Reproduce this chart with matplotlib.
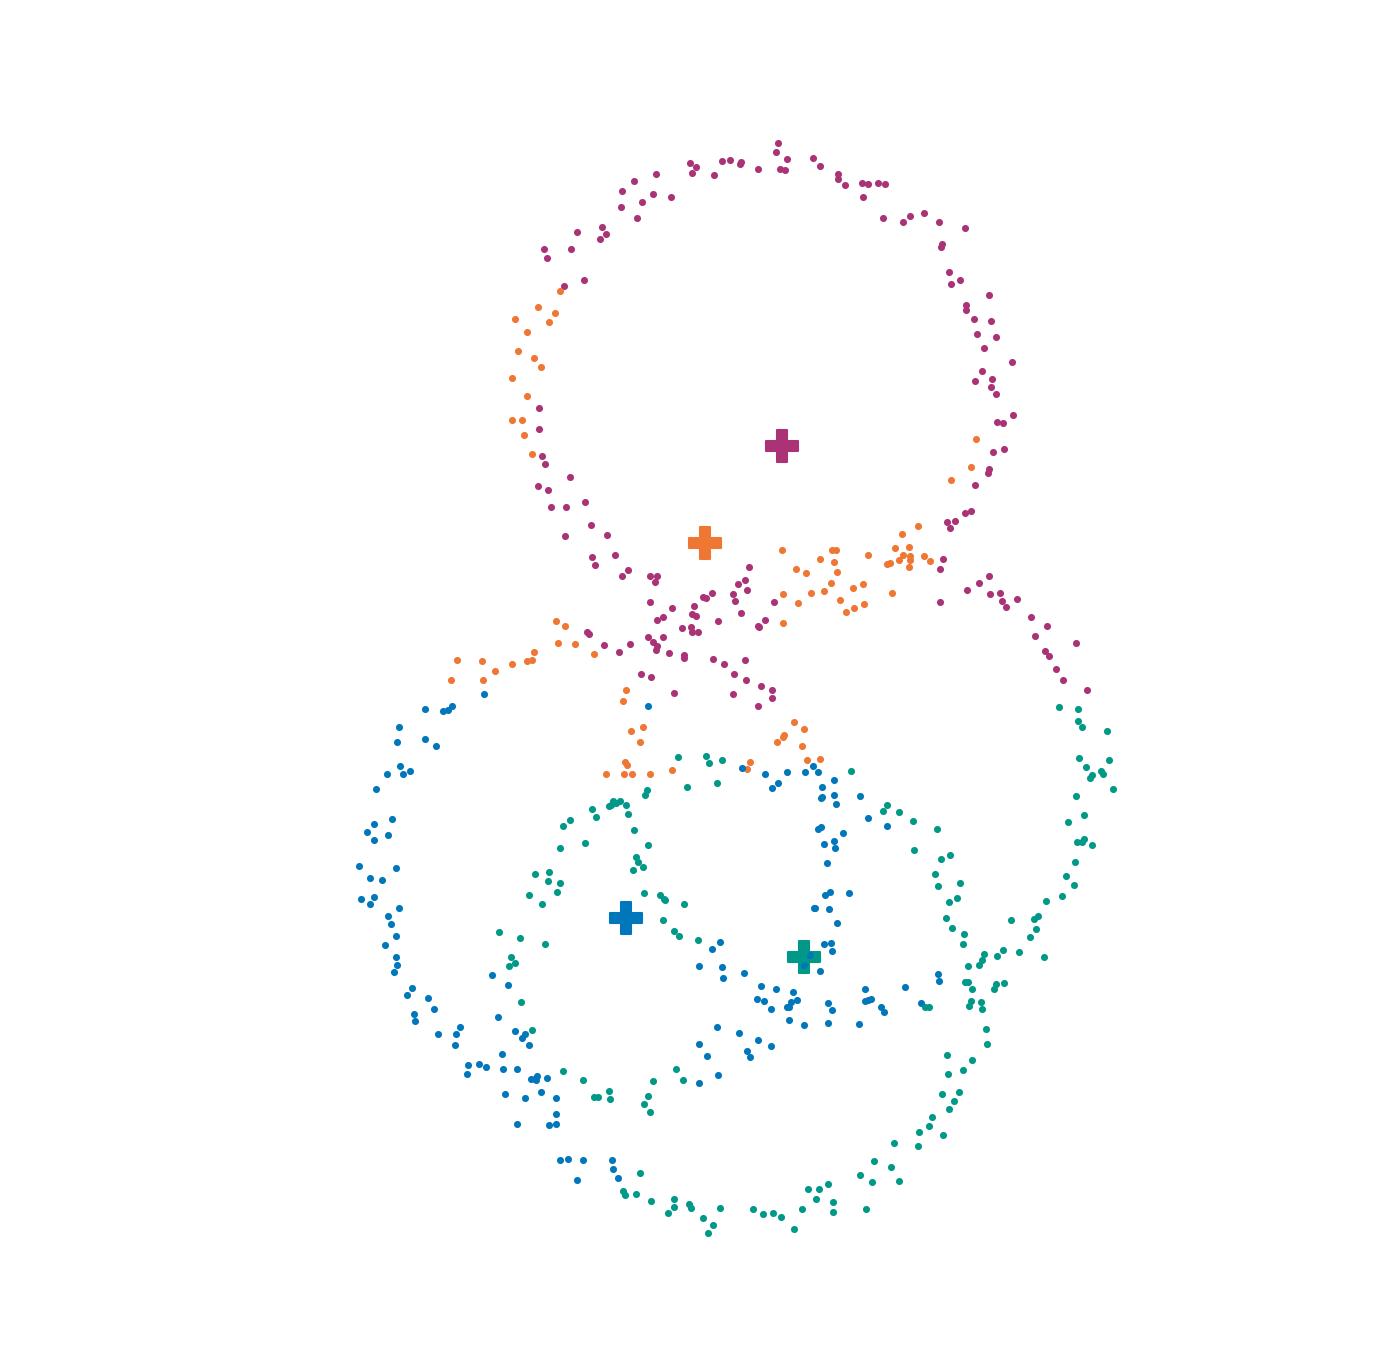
import matplotlib
matplotlib.use("Agg")
import matplotlib.pyplot as plt

# cluster colours
colors = {"m": "#AA3377", "o": "#EE7733", "b": "#0077BB", "t": "#009988"}

# points (x, y in the plot's own units, y grows downward)
m_pts = [(577,232),(602,227),(606,234),(600,239),(544,249),(547,258),(571,249),(584,280),(564,286),(539,408),
         (622,191),(634,181),(656,174),(621,207),(642,202),(637,218),(653,194),(671,197),(690,163),(696,167),
         (692,173),(714,175),(722,161),(730,160),(740,164),(741,162),(758,169),(778,143),(776,152),(787,159),
         (780,169),(785,170),(813,158),(820,166),(838,174),(838,179),(845,185),(862,183),(868,184),(863,197),
         (878,183),(885,184),(883,218),(903,222),(910,216),(924,213),(939,222),(965,228),(942,244),(941,247),
         (949,272),(951,284),(960,280),(989,295),(966,305),(966,310),(974,319),(991,321),(977,334),(996,337),
         (984,348),(1012,362),(982,371),(975,381),(992,379),(991,387),(996,394),(1013,415),
         (539,429),(542,456),(545,464),(570,477),(538,486),(548,490),(585,502),(551,507),(566,507),(591,525),
         (565,536),(607,535),(592,557),(595,565),(587,632),(589,634),(604,645),
         (615,555),(628,570),(622,576),(650,576),(657,576),(655,582),(650,602),(672,608),(657,620),(663,617),
         (694,606),(703,597),(706,598),(712,593),(692,614),(696,616),(682,628),(691,627),(692,632),(698,632),
         (718,621),(648,637),(663,637),(653,642),(657,646),(656,650),(630,644),(619,652),(669,653),(684,655),
         (684,658),(713,659),(724,664),(745,660),(641,674),(651,677),(734,674),(746,680),(761,686),(772,690),
         (674,693),(733,694),(749,567),(745,580),(738,584),(747,590),(733,594),(735,601),(741,613),(774,602),
         (765,620),(758,626),(759,627),
         (997,422),(1003,423),(993,452),(1004,449),(989,469),(988,473),(975,485),(965,513),(971,511),(947,522),
         (955,521),(950,528),(943,559),(940,569),(989,576),(979,583),(967,590),(990,594),(1000,593),(1002,601),
         (1006,607),(1017,599),(940,602),(1031,617),(1047,626),(1035,636),(1076,643),(1045,651),(1049,656),
         (1056,669),(1063,680),(1087,690),(772,698),(758,706)]

o_pts = [(560,291),(538,307),(555,313),(515,319),(549,322),(527,332),(518,351),(534,358),(541,367),(512,378),
         (527,396),(512,420),(522,420),(524,435),(532,454),(556,621),(565,626),(558,643),(575,644),(594,654),
         (534,652),(527,661),(532,660),(512,664),(457,660),(482,661),(495,671),(451,680),(483,680),
         (782,550),(796,569),(806,573),(820,559),(832,550),(836,550),(834,562),(837,572),(831,583),(824,591),
         (811,593),(783,594),(798,603),(783,623),(840,600),(846,612),(854,608),(853,588),(863,584),(864,604),
         (868,555),(626,690),
         (976,439),(971,467),(951,480),(918,526),(902,534),(895,548),(909,547),(903,555),(910,556),(910,560),
         (899,560),(887,564),(890,563),(909,567),(924,556),(930,561),(892,593),(606,774),
         (623,701),(631,731),(643,727),(640,742),(625,762),(627,765),(624,774),(632,774),(650,774),(672,770),
         (794,722),(804,729),(784,735),(783,737),(777,742),(802,746),(807,760),(820,759),(750,762),(747,769)]

b_pts = [(484,694),(425,709),(443,711),(448,710),(452,706),(399,727),(397,742),(425,739),(436,746),(400,766),
         (387,774),(403,774),(410,771),(376,789),(392,819),(374,824),(367,832),(388,835),(374,840),(359,866),
         (396,868),(370,878),(382,880),(361,899),(374,897),(370,904),(399,908),(388,916),(391,924),(396,936),
         (385,945),(396,957),(397,965),(394,972),(492,975),
         (648,706),(742,768),(765,774),(787,772),(805,772),(813,766),(818,772),(778,783),(772,788),(822,787),
         (834,780),(860,796),(834,795),(822,797),(821,798),(836,804),(868,818),(818,829),(821,827),(843,833),
         (834,841),(824,844),(835,848),(827,863),(830,892),(825,895),(849,893),(814,908),(815,908),(829,909),
         (837,923),(824,944),(831,943),(832,951),(810,955),(804,965),(820,971),(720,942),(712,949),(699,966),
         (722,967),(744,973),(887,826),(938,974),
         (508,985),(412,988),(407,995),(428,998),(434,1009),(414,1014),(415,1021),(438,1034),(460,1027),(456,1034),
         (455,1045),(498,1017),(515,1031),(525,1034),(522,1038),(529,1045),(502,1054),(468,1065),(479,1064),
         (486,1067),(467,1074),(503,1069),(517,1069),(531,1079),(535,1079),(537,1076),(536,1080),(547,1078),
         (505,1094),(525,1098),(541,1092),(556,1098),(556,1114),(517,1124),(549,1125),(556,1124),(560,1160),
         (568,1159),(583,1160),(577,1180),
         (723,978),(761,986),(776,989),(793,992),(757,999),(764,1001),(771,1009),(787,1007),(791,1002),(797,1000),
         (789,1007),(789,1020),(804,1025),(828,1003),(832,1010),(828,1023),(859,1024),(865,989),(865,1001),
         (868,1000),(717,1027),(739,1033),(758,1040),(771,1046),(747,1051),(750,1057),(699,1044),(707,1056),
         (718,1075),(699,1083),(612,1160),(613,1169),(618,1178),
         (939,981),(905,987),(871,999),(881,1007),(884,1012),(921,1003)]

t_pts = [(592,809),(596,817),(609,806),(563,826),(570,820),(585,843),(560,848),(535,874),(549,872),(548,881),
         (560,883),(557,892),(529,895),(542,904),(499,932),(520,938),(545,944),(511,957),(515,963),(509,966),
         (678,757),(706,756),(709,763),(722,760),(687,787),(717,783),(851,771),(647,790),(645,795),(613,801),
         (620,801),(616,803),(611,805),(626,805),(628,814),(634,830),(648,845),(636,857),(638,862),(643,867),
         (633,870),(644,893),(660,895),(664,899),(665,900),(684,904),(663,920),(674,931),(679,936),(698,940),
         (1059,707),(1078,709),(1078,721),(1082,727),(1107,731),(1079,758),(1086,767),(1109,760),(1090,778),
         (1092,775),(1101,771),(1103,774),(1113,789),(1076,796),(1084,815),(1068,822),(1077,842),(1082,842),
         (1084,839),(1092,845),(1075,862),(1066,876),(1074,885),(1062,896),(1046,901),(1011,920),(1034,919),
         (1038,916),(1036,929),(1030,937),(1019,952),(1003,950),(997,956),(984,954),(982,960),(979,965),(968,966),
         (1044,957),(887,805),(883,811),(899,812),(913,821),(937,829),(914,850),(941,859),(950,855),(935,874),
         (938,886),(960,883),(949,902),(957,898),(946,918),(952,928),(964,934),(963,944),
         (521,1002),(532,1030),(563,1071),(583,1080),(594,1097),(598,1097),(609,1091),(610,1099),
         (676,1069),(683,1080),(653,1081),(648,1096),(644,1104),(650,1112),
         (640,1173),(623,1191),(625,1195),(636,1194),(651,1201),(674,1199),(674,1207),(668,1213),(689,1204),
         (691,1208),(703,1218),(713,1225),(708,1233),(720,1208),(753,1209),(763,1214),(773,1213),(781,1217),
         (794,1229),(802,1209),(808,1189),(819,1189),(816,1199),(828,1184),(833,1202),(833,1212),(860,1175),
         (866,1209),
         (925,1007),(929,1007),(965,982),(968,982),(972,989),(996,984),(1004,983),(994,989),(971,1001),(969,1006),
         (981,1002),(982,1009),(986,1029),(987,1044),(947,1055),(972,1060),(963,1070),(948,1074),(942,1094),
         (959,1092),(954,1101),(949,1109),(932,1117),(929,1126),(919,1132),(943,1135),(918,1146),(894,1143),
         (874,1161),(891,1167),(872,1182),(899,1181)]

# cluster centres
centroids = {"m": (782,446), "o": (705,543), "b": (626,918), "t": (804,957)}

clusters = {"m": m_pts, "o": o_pts, "b": b_pts, "t": t_pts}

fig = plt.figure(figsize=(13.95, 13.59), dpi=100)
ax = fig.add_axes([0, 0, 1, 1])

for key, pts in clusters.items():
    xs = [p[0] for p in pts]
    ys = [p[1] for p in pts]
    ax.scatter(xs, ys, s=26, color=colors[key], linewidths=0, zorder=3)

for key, (cx, cy) in centroids.items():
    ax.scatter([cx], [cy], s=560, marker="P", color=colors[key],
               edgecolors=colors[key], linewidths=1.5, zorder=2)

ax.set_xlim(0, 1395)
ax.set_ylim(1359, 0)
ax.axis("off")

plt.savefig("out.png", dpi=100, facecolor="white")
